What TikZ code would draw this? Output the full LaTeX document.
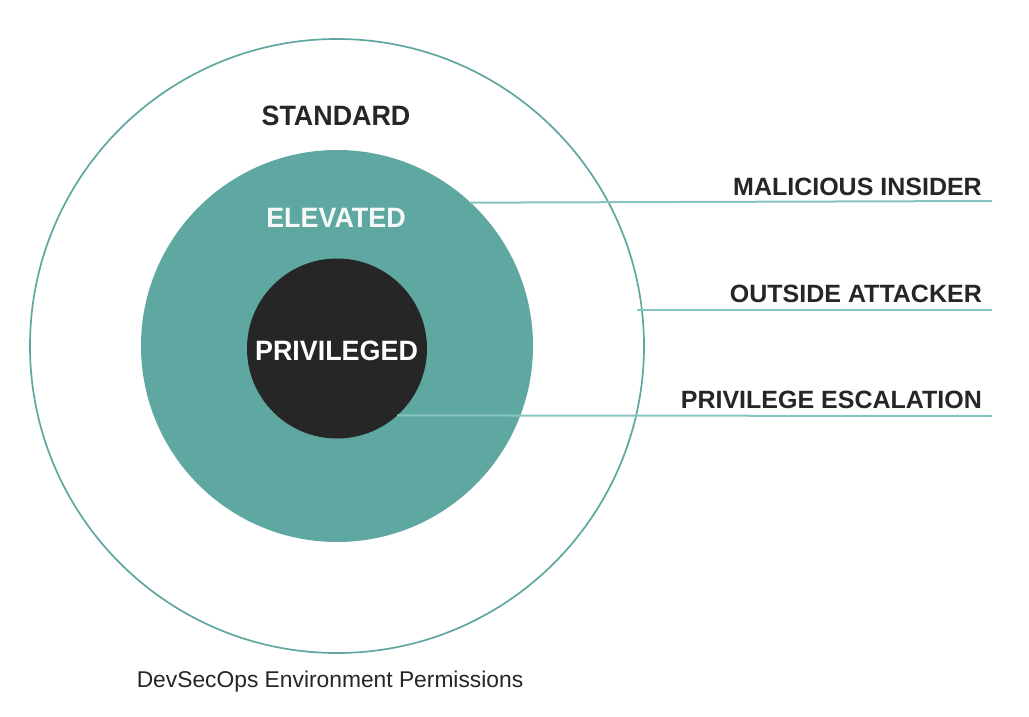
\documentclass[tikz,border=0pt]{standalone}
\usepackage{fontspec}
\setmainfont{Liberation Sans}
\newfontfamily\narrowfont[FakeStretch=0.96]{Liberation Sans}
\definecolor{teal1}{RGB}{95,168,161}
\definecolor{teal2}{RGB}{135,198,192}
\definecolor{ink}{RGB}{38,38,38}
\tikzset{
  ring/.style={circle,inner sep=0pt,outer sep=0pt},
  biglabel/.style={font=\narrowfont\fontsize{28}{30}\selectfont\bfseries,inner sep=0pt,anchor=base},
  sidelabel/.style={font=\fontsize{25}{27}\selectfont\bfseries,text=ink,inner sep=0pt,anchor=base east},
  leader/.style={draw=teal2,line width=2pt},
}
\begin{document}
\begin{tikzpicture}[x=1pt,y=-1pt]
\useasboundingbox[fill=white] (0,0) rectangle (1029,717);
% circles
\node[ring,draw=teal1,line width=1.7pt,minimum size=614pt] (outer) at (337,346) {};
\node[ring,fill=teal1,minimum size=392pt] (elev) at (337,346) {};
\node[ring,fill=ink,minimum size=180pt] (priv) at (337,348.5) {};
% circle labels
\node[biglabel,text=ink] (standard) at (336,125.5) {STANDARD};
\node[biglabel,text=white!94!teal1] (elevated) at (336,227.3) {ELEVATED};
\node[biglabel,text=white] (privileged) at (336.5,360.5) {PRIVILEGED};
% side labels
\node[sidelabel] (mi) at (982,195) {MALICIOUS INSIDER};
\node[sidelabel] (oa) at (982,302.5) {OUTSIDE ATTACKER};
\node[sidelabel] (pe) at (982,408.3) {PRIVILEGE ESCALATION};
% leader ends
\coordinate (miend) at (992,201);
\coordinate (oaend) at (992,309.5);
\coordinate (peend) at (992,416);
\coordinate (oastart) at (637,309.5);
\draw[leader] (elev.47.7) -- (miend);
\draw[leader] (oastart) -- (oaend);
\draw[leader] (priv.-48.6) -- (peend);
% caption
\node[font=\fontsize{22.8}{24}\selectfont,text=ink,inner sep=0pt,anchor=base] (caption) at (330,687.7) {DevSecOps Environment Permissions};
\end{tikzpicture}
\end{document}
